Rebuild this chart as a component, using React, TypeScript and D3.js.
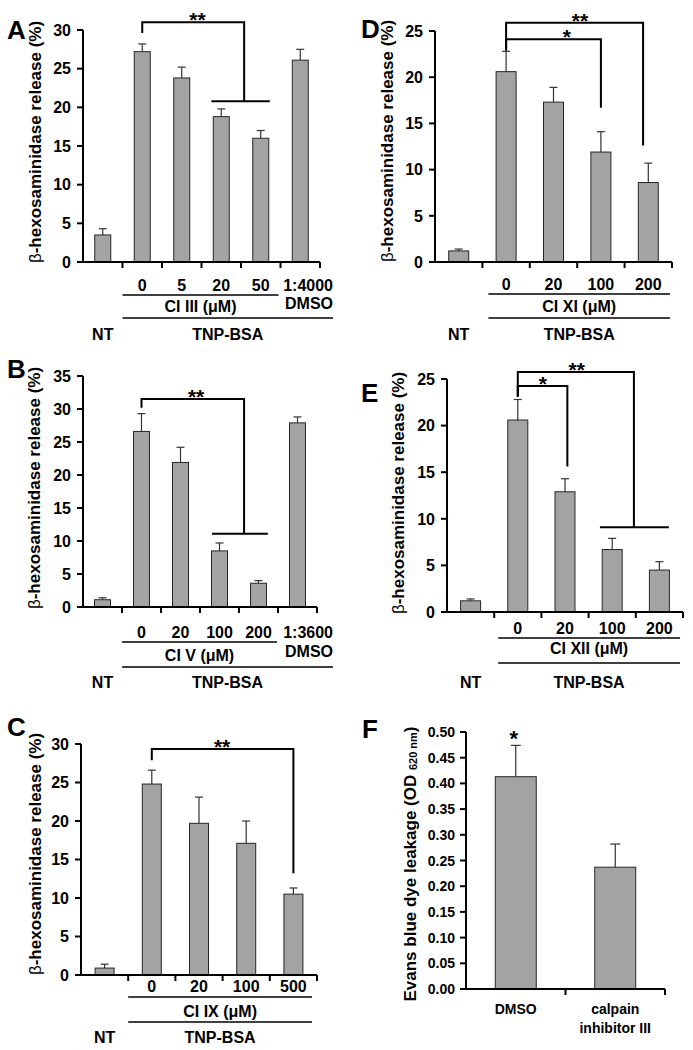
import React from "react";
import * as d3 from "d3";

const FONT = "'Liberation Sans', Arial, Helvetica, sans-serif";

// ---------------- Panel A ----------------
const categoriesA = ["NT", "0", "5", "20", "50", "1:4000"];
const valuesA = [3.5, 27.2, 23.8, 18.8, 16.0, 26.1];
const errorsA = [0.8, 1.0, 1.4, 1.0, 1.0, 1.4];
const yTicksA = [0, 5, 10, 15, 20, 25, 30];
const groupLabelA = "CI III (μM)";
const sigA = [{ label: "**", from: 1, to: 3.58, top: 31.0, fromDrop: 29.6, toDrop: 20.8, labelPos: 2.4 }];
const spansA = [{ from: 2.75, to: 4.23, value: 20.8 }];

// ---------------- Panel B ----------------
const categoriesB = ["NT", "0", "20", "100", "200", "1:3600"];
const valuesB = [1.1, 26.6, 21.9, 8.5, 3.6, 27.9];
const errorsB = [0.3, 2.7, 2.3, 1.2, 0.4, 0.9];
const yTicksB = [0, 5, 10, 15, 20, 25, 30, 35];
const groupLabelB = "CI V (μM)";
const sigB = [{ label: "**", from: 1, to: 3.63, top: 31.5, fromDrop: 30.2, toDrop: 11.1, labelPos: 2.4 }];
const spansB = [{ from: 2.81, to: 4.24, value: 11.1 }];

// ---------------- Panel C ----------------
const categoriesC = ["NT", "0", "20", "100", "500"];
const valuesC = [0.9, 24.8, 19.7, 17.1, 10.5];
const errorsC = [0.5, 1.8, 3.4, 2.9, 0.8];
const yTicksC = [0, 5, 10, 15, 20, 25, 30];
const groupLabelC = "CI IX (μM)";
const sigC = [{ label: "**", from: 1, to: 4, top: 29.35, fromDrop: 27.9, toDrop: 13.2, labelPos: 2.49 }];
const spansC: { from: number; to: number; value: number }[] = [];

// ---------------- Panel D ----------------
const categoriesD = ["NT", "0", "20", "100", "200"];
const valuesD = [1.2, 20.6, 17.3, 11.9, 8.6];
const errorsD = [0.2, 2.2, 1.6, 2.2, 2.1];
const yTicksD = [0, 5, 10, 15, 20, 25];
const groupLabelD = "CI XI (μM)";
const sigD = [
  { label: "**", from: 1, to: 3.89, top: 25.9, fromDrop: 22.9, toDrop: 12.6, labelPos: 2.56 },
  { label: "*", from: 1, to: 3.0, top: 24.1, fromDrop: 22.9, toDrop: 16.7, labelPos: 2.28 },
];
const spansD: { from: number; to: number; value: number }[] = [];

// ---------------- Panel E ----------------
const categoriesE = ["NT", "0", "20", "100", "200"];
const valuesE = [1.2, 20.6, 12.9, 6.7, 4.5];
const errorsE = [0.2, 2.2, 1.4, 1.2, 0.9];
const yTicksE = [0, 5, 10, 15, 20, 25];
const groupLabelE = "CI XII (μM)";
const sigE = [
  { label: "**", from: 1, to: 3.46, top: 25.75, fromDrop: 23.1, toDrop: 9.1, labelPos: 2.25 },
  { label: "*", from: 1, to: 2.05, top: 24.25, fromDrop: 23.1, toDrop: 15.6, labelPos: 1.53 },
];
const spansE = [{ from: 2.74, to: 4.2, value: 9.1 }];

// ---------------- Panel F ----------------
const categoriesF = ["DMSO", "calpain inhibitor III"];
const labelLinesF = [["DMSO"], ["calpain", "inhibitor III"]];
const valuesF = [0.413, 0.237];
const errorsF = [0.061, 0.045];
const yTicksF = [0, 0.05, 0.1, 0.15, 0.2, 0.25, 0.3, 0.35, 0.4, 0.45, 0.5];
const sigF = [{ index: 0, label: "*" }];

const BAR_FILL = "#a3a3a3";
const BAR_STROKE = "#262626";
const LABEL_SIZE = 16;

type Sig = { label: string; from: number; to: number; top: number; fromDrop: number; toDrop: number; labelPos: number };
type Span = { from: number; to: number; value: number };

type Layout = {
  letter: string; lx: number; ly: number;
  x0: number; x1: number; y0: number; yTop: number; barW: number;
  tx: number; ty: number;
  numY: number; line1Y: number; ciY: number; line2Y: number; ntY: number;
  dmsoY?: number; ratioRight?: number;
  line1: (bx: (i: number) => number, x1: number) => [number, number];
  line2: (bx: (i: number) => number, x1: number) => [number, number];
};

function BarPanel(props: {
  L: Layout; cats: string[]; vals: number[]; errs: number[]; ticks: number[];
  sig: Sig[]; spans: Span[]; groupLabel: string; hasDmso: boolean;
}) {
  const { L, cats, vals, errs, ticks, sig, spans, groupLabel, hasDmso } = props;
  const x = d3.scaleBand<string>().domain(cats).range([L.x0, L.x1]).padding(0);
  const bw = x.bandwidth();
  const y = d3.scaleLinear().domain([0, d3.max(ticks) as number]).range([L.y0, L.yTop]);
  const pos = (i: number) => L.x0 + (i + 0.5) * bw;
  const bx = (i: number) => L.x0 + i * bw;
  const [l1a, l1b] = L.line1(bx, L.x1);
  const [l2a, l2b] = L.line2(bx, L.x1);
  const n = cats.length;
  const numericIdx = d3.range(1, hasDmso ? n - 1 : n);
  return (
    <g fontFamily={FONT} fontWeight="bold" fill="#000">
      <text x={L.lx} y={L.ly} fontSize={26} fontWeight="bold">{L.letter}</text>
      <text transform={`translate(${L.tx},${L.ty}) rotate(-90)`} textAnchor="middle" fontSize={17}>
        <tspan fontWeight="normal">β</tspan>-hexosaminidase release (%)
      </text>
      {cats.map((c, i) => {
        const cx = (x(c) as number) + bw / 2;
        const top = y(vals[i]);
        const et = y(vals[i] + errs[i]);
        return (
          <g key={c}>
            <line x1={cx} x2={cx} y1={top} y2={et} stroke="#333" strokeWidth={1.2} />
            <line x1={cx - 4} x2={cx + 4} y1={et} y2={et} stroke="#333" strokeWidth={1.2} />
            <rect x={cx - L.barW / 2} y={top} width={L.barW} height={L.y0 - top} fill={BAR_FILL} stroke={BAR_STROKE} strokeWidth={1} />
          </g>
        );
      })}
      <line x1={L.x0} x2={L.x0} y1={L.yTop} y2={L.y0} stroke="#000" strokeWidth={2} />
      {ticks.map((t) => (
        <g key={t}>
          <line x1={L.x0 - 6} x2={L.x0} y1={y(t)} y2={y(t)} stroke="#000" strokeWidth={2} />
          <text x={L.x0 - 12} y={y(t)} dy="0.36em" textAnchor="end" fontSize={LABEL_SIZE}>{t}</text>
        </g>
      ))}
      <line x1={L.x0} x2={L.x1} y1={L.y0} y2={L.y0} stroke="#000" strokeWidth={2} />
      {d3.range(1, n + 1).map((i) => (
        <line key={i} x1={bx(i)} x2={bx(i)} y1={L.y0} y2={L.y0 + 6} stroke="#000" strokeWidth={2} />
      ))}
      {sig.map((s, k) => (
        <g key={k}>
          <path
            d={`M${pos(s.from)},${y(s.fromDrop)}V${y(s.top)}H${pos(s.to)}V${y(s.toDrop)}`}
            fill="none" stroke="#000" strokeWidth={2}
          />
          <text x={pos(s.labelPos)} y={y(s.top) + 5} textAnchor="middle" fontSize={21}>{s.label}</text>
        </g>
      ))}
      {spans.map((s, k) => (
        <line key={k} x1={pos(s.from)} x2={pos(s.to)} y1={y(s.value)} y2={y(s.value)} stroke="#000" strokeWidth={2} />
      ))}
      {numericIdx.map((i) => (
        <text key={i} x={pos(i)} y={L.numY} textAnchor="middle" fontSize={LABEL_SIZE}>{cats[i]}</text>
      ))}
      {hasDmso && (
        <>
          <text x={L.ratioRight} y={L.numY} textAnchor="end" fontSize={LABEL_SIZE}>{cats[n - 1]}</text>
          <text x={L.ratioRight} y={L.dmsoY} textAnchor="end" fontSize={LABEL_SIZE}>DMSO</text>
        </>
      )}
      <line x1={l1a} x2={l1b} y1={L.line1Y} y2={L.line1Y} stroke="#000" strokeWidth={1.5} />
      <text x={(l1a + l1b) / 2} y={L.ciY} textAnchor="middle" fontSize={LABEL_SIZE}>{groupLabel}</text>
      <line x1={l2a} x2={l2b} y1={L.line2Y} y2={L.line2Y} stroke="#000" strokeWidth={1.5} />
      <text x={pos(0)} y={L.ntY} textAnchor="middle" fontSize={LABEL_SIZE}>NT</text>
      <text x={(l2a + l2b) / 2} y={L.ntY} textAnchor="middle" fontSize={LABEL_SIZE}>TNP-BSA</text>
    </g>
  );
}

const layoutA: Layout = {
  letter: "A", lx: 7, ly: 39, x0: 83, x1: 320, y0: 262, yTop: 30, barW: 16, tx: 41, ty: 142,
  numY: 291, line1Y: 295, ciY: 312, line2Y: 318, ntY: 340, dmsoY: 309, ratioRight: 333,
  line1: (bx) => [bx(1), bx(5) - 2], line2: (bx, x1) => [bx(1), x1 + 13],
};
const layoutB: Layout = {
  letter: "B", lx: 7, ly: 378, x0: 83, x1: 317, y0: 607, yTop: 376, barW: 16, tx: 40, ty: 488,
  numY: 638, line1Y: 642, ciY: 661, line2Y: 667, ntY: 688, dmsoY: 657, ratioRight: 333,
  line1: (bx) => [bx(1), bx(5) - 1], line2: (bx, x1) => [bx(1), x1 + 16],
};
const layoutC: Layout = {
  letter: "C", lx: 7, ly: 736, x0: 81, x1: 317, y0: 975, yTop: 744, barW: 19, tx: 41, ty: 854,
  numY: 992, line1Y: 997, ciY: 1017, line2Y: 1022, ntY: 1043,
  line1: (bx, x1) => [bx(1), x1 - 5], line2: (bx, x1) => [bx(1), x1 - 5],
};
const layoutD: Layout = {
  letter: "D", lx: 361, ly: 38, x0: 435, x1: 672, y0: 262, yTop: 31, barW: 20, tx: 393, ty: 141,
  numY: 290, line1Y: 294, ciY: 312, line2Y: 318, ntY: 340,
  line1: (bx, x1) => [bx(1) + 6, x1 - 2], line2: (bx, x1) => [bx(1) + 6, x1 - 2],
};
const layoutE: Layout = {
  letter: "E", lx: 361, ly: 402, x0: 447, x1: 683, y0: 612, yTop: 379, barW: 20, tx: 404, ty: 493,
  numY: 634, line1Y: 638, ciY: 654, line2Y: 663, ntY: 688,
  line1: (bx, x1) => [bx(1) + 4, x1 - 3], line2: (bx, x1) => [bx(1) + 4, x1 - 3],
};

function PanelF() {
  const L = { x0: 466, x1: 665, y0: 989, yTop: 732, barW: 41 };
  const x = d3.scaleBand<string>().domain(categoriesF).range([L.x0, L.x1]).padding(0);
  const bw = x.bandwidth();
  const y = d3.scaleLinear().domain([0, d3.max(yTicksF) as number]).range([L.y0, L.yTop]);
  const fmt = d3.format(".2f");
  return (
    <g fontFamily={FONT} fontWeight="bold" fill="#000">
      <text x={362} y={738} fontSize={26}>F</text>
      <text transform="translate(416,864) rotate(-90)" textAnchor="middle" fontSize={17}>
        Evans blue dye leakage (OD <tspan fontSize={11} dy={1}>620 nm</tspan><tspan dy={-1}>)</tspan>
      </text>
      {categoriesF.map((c, i) => {
        const cx = (x(c) as number) + bw / 2;
        const top = y(valuesF[i]);
        const et = y(valuesF[i] + errorsF[i]);
        return (
          <g key={c}>
            <line x1={cx} x2={cx} y1={top} y2={et} stroke="#333" strokeWidth={1.2} />
            <line x1={cx - 5} x2={cx + 5} y1={et} y2={et} stroke="#333" strokeWidth={1.2} />
            <rect x={cx - L.barW / 2} y={top} width={L.barW} height={L.y0 - top} fill={BAR_FILL} stroke={BAR_STROKE} strokeWidth={1} />
            {labelLinesF[i].map((ln, j) => (
              <text key={j} x={cx} y={1014 + j * 19} textAnchor="middle" fontSize={14}>{ln}</text>
            ))}
          </g>
        );
      })}
      {sigF.map((s) => {
        const c = categoriesF[s.index];
        const cx = (x(c) as number) + bw / 2;
        return (
          <text key={c} x={cx - 2} y={y(valuesF[s.index] + errorsF[s.index]) + 1} textAnchor="middle" fontSize={22}>{s.label}</text>
        );
      })}
      <line x1={L.x0} x2={L.x0} y1={L.yTop} y2={L.y0} stroke="#000" strokeWidth={2} />
      {yTicksF.map((t) => (
        <g key={t}>
          <line x1={L.x0 - 6} x2={L.x0} y1={y(t)} y2={y(t)} stroke="#000" strokeWidth={2} />
          <text x={L.x0 - 11} y={y(t)} dy="0.36em" textAnchor="end" fontSize={14}>{fmt(t)}</text>
        </g>
      ))}
      <line x1={L.x0} x2={L.x1} y1={L.y0} y2={L.y0} stroke="#000" strokeWidth={2} />
      {[1, 2].map((i) => (
        <line key={i} x1={L.x0 + i * bw} x2={L.x0 + i * bw} y1={L.y0} y2={L.y0 + 6} stroke="#000" strokeWidth={2} />
      ))}
    </g>
  );
}

export default function App() {
  return (
    <svg
      width={693}
      height={1050}
      style={{ position: "absolute", left: 0, top: 0, background: "#fff" }}
    >
      <rect width={693} height={1050} fill="#fff" />
      <BarPanel L={layoutA} cats={categoriesA} vals={valuesA} errs={errorsA} ticks={yTicksA} sig={sigA} spans={spansA} groupLabel={groupLabelA} hasDmso={true} />
      <BarPanel L={layoutB} cats={categoriesB} vals={valuesB} errs={errorsB} ticks={yTicksB} sig={sigB} spans={spansB} groupLabel={groupLabelB} hasDmso={true} />
      <BarPanel L={layoutC} cats={categoriesC} vals={valuesC} errs={errorsC} ticks={yTicksC} sig={sigC} spans={spansC} groupLabel={groupLabelC} hasDmso={false} />
      <BarPanel L={layoutD} cats={categoriesD} vals={valuesD} errs={errorsD} ticks={yTicksD} sig={sigD} spans={spansD} groupLabel={groupLabelD} hasDmso={false} />
      <BarPanel L={layoutE} cats={categoriesE} vals={valuesE} errs={errorsE} ticks={yTicksE} sig={sigE} spans={spansE} groupLabel={groupLabelE} hasDmso={false} />
      <PanelF />
    </svg>
  );
}
